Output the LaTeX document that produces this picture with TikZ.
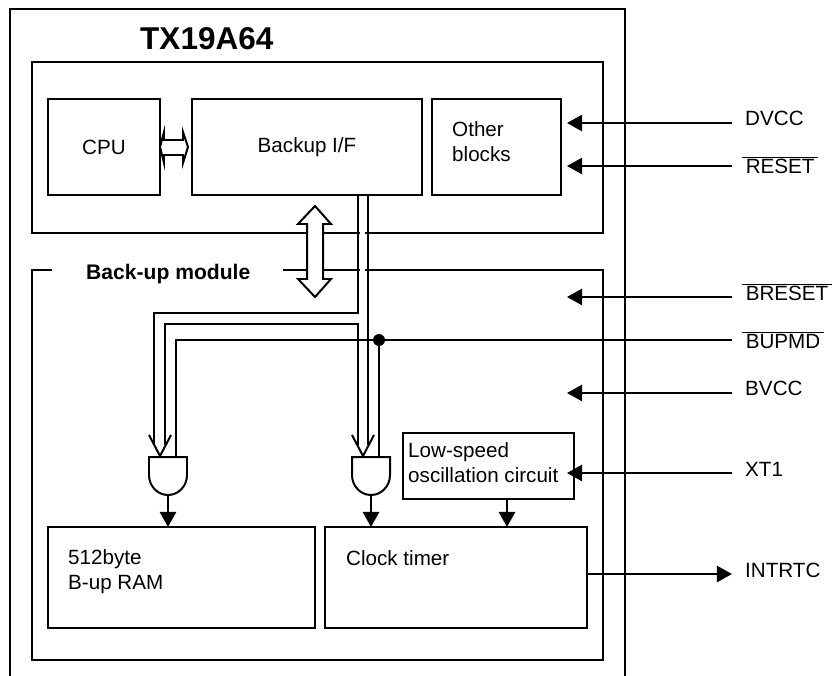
\documentclass[tikz,border=0pt]{standalone}
\usepackage{fontspec}
\setmainfont{Liberation Sans}
\usetikzlibrary{arrows.meta}
\newcommand{\barsig}[1]{\kern-2.5pt$\overline{\mbox{\,#1\,}}$}
\tikzset{
    wire/.style={line width=1.7pt},
    sigarrow/.style={wire, -{Triangle[length=13pt,width=14pt]}},
    block/.style 2 args={draw, wire, inner sep=0pt, outer sep=0pt, anchor=north west,
        minimum width=#1*0.3mm, minimum height=#2*0.3mm},
    txt/.style={inner sep=0pt, anchor=base west, align=left},
    pinlabel/.style={inner ysep=0pt, inner xsep=13*0.3mm, anchor=base west},
    every node/.style={font=\fontsize{17.6}{20.5}\selectfont}
}
\begin{document}
\begin{tikzpicture}[x=0.3mm, y=-0.3mm]
    \useasboundingbox (0,0) rectangle (832,676);

    % Chip outline
    \draw[wire] (10,676) -- (10,9) -- (625,9) -- (625,676);
    \node[txt, font=\fontsize{26.9}{30}\selectfont\bfseries] (chip) at (140,50) {TX19A64};

    % Upper blocks
    \draw[wire] (32,62) rectangle (603,233);
    \node[block={112}{96}] (cpu) at (48,99) {CPU};
    \node[block={230}{96}] (backup) at (192,99) {Backup I/F};
    \node[block={129}{96}] (other) at (432,99) {};
    \node[txt] (otherlabel) at (452,161) {Other\\blocks};

    % Module frame, open at its label
    \draw[wire] (52,270) -- (32,270) -- (32,660) -- (603,660) -- (603,270) -- (283,270);
    \node[txt, font=\fontsize{18}{20.5}\selectfont\bfseries] (modlabel) at (86,279) {Back-up module};
    \draw[white, line width=2.4pt] (360,233) -- (365,233) (360,270) -- (365,270);

    % Lower blocks
    \node[block={267}{101}] (ram) at (48,527) {};
    \node[txt] (ramlabel) at (68,589) {512byte\\B-up RAM};
    \node[block={262}{101}] (clock) at (325,527) {};
    \node[txt] (clocklabel) at (346,565) {Clock timer};
    \node[block={171}{66}] (osc) at (403,433) {};
    \node[txt] (osclabel) at (408,482) {Low-speed\\oscillation circuit};

    % Hollow double arrows
    \draw[wire, fill=white] (160,147) -- (164,132) -- (164,140) -- (183,140) -- (183,132)
        -- (188,147) -- (183,163) -- (183,155) -- (164,155) -- (164,163) -- cycle;
    \draw[wire, fill=white] (315,206) -- (331,224) -- (323,224) -- (323,279) -- (331,279)
        -- (315,297) -- (298,279) -- (307,279) -- (307,224) -- (298,224) -- cycle;

    % Gates
    \foreach \g/\x in {gatel/168, gater/371} {
        \draw[wire] ({\x-19},475) -- ({\x-19},457) -- ({\x+19},457) -- ({\x+19},475)
            arc[start angle=0, end angle=180, x radius=19, y radius=20];
        \coordinate (\g) at (\x,495);
    }

    % Bus lines
    \coordinate (busa) at (358,195);
    \coordinate (busb) at (368,195);
    \draw[wire] (busa |- backup.south) -- (358,313) -- (154,313) -- (154,445);
    \draw[wire] (165,445) -- (165,324) -- (358,324) -- (358,445);
    \draw[wire] (busb |- backup.south) -- (368,445);
    \draw[wire] (149,435) -- (160,456) -- (171,435);
    \draw[wire] (352,435) -- (363,456) -- (374,435);

    % Pins
    \foreach \name/\lab/\yb/\y in {dvcc/DVCC/125.5/123, reset/\barsig{RESET}/173/166,
        breset/\barsig{BRESET}/300/297, bvcc/BVCC/395.5/393} {
        \node[pinlabel] (\name) at (732,\yb) {\lab};
        \coordinate (\name tip) at (567,\y);
        \draw[sigarrow] (\name.west |- 0,\y) -- (\name tip);
    }
    \node[pinlabel] (xt1) at (732,476) {XT1};
    \coordinate (xt1tip) at (567,473);
    \draw[sigarrow] (xt1.west |- 0,473) -- (xt1tip);
    \node[pinlabel] (bupmd) at (732,348) {\barsig{BUPMD}};
    \node[pinlabel] (intrtc) at (732,577) {INTRTC};
    \draw[sigarrow] (clock.east |- 0,574) -- (intrtc.west |- 0,574);

    % Mode line and its dot
    \node[circle, fill, inner sep=0pt, minimum size=12*0.3mm] (dot) at (379,340) {};
    \draw[wire] (bupmd.west |- dot) -- (176,340) -- (176,457);
    \draw[wire] (dot) -- (379,457);

    % Gate outputs
    \draw[sigarrow] (gatel) -- (gatel |- ram.north);
    \draw[sigarrow] (gater) -- (gater |- clock.north);
    \draw[sigarrow] (osc.south -| 507,0) -- (507,527);
\end{tikzpicture}
\end{document}
